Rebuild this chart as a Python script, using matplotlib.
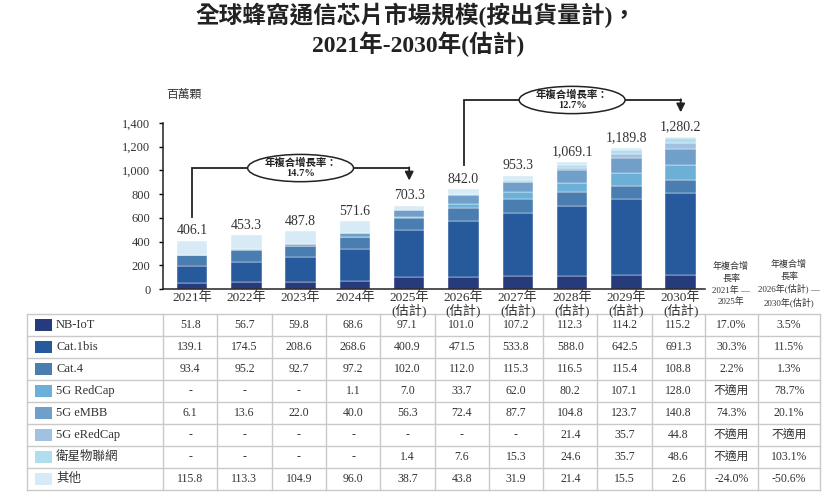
import matplotlib
matplotlib.use('Agg')
import matplotlib.pyplot as plt
from matplotlib.patches import Ellipse, Rectangle

plt.rcParams['font.family'] = ['Liberation Serif', 'Noto Sans CJK TC']

years = ['2021', '2022', '2023', '2024', '2025', '2026', '2027', '2028', '2029', '2030']
is_estimate = [False, False, False, False, True, True, True, True, True, True]

# None = "-" in the table
nb_iot = [51.8, 56.7, 59.8, 68.6, 97.1, 101.0, 107.2, 112.3, 114.2, 115.2]
cat1bis = [139.1, 174.5, 208.6, 268.6, 400.9, 471.5, 533.8, 588.0, 642.5, 691.3]
cat4 = [93.4, 95.2, 92.7, 97.2, 102.0, 112.0, 115.3, 116.5, 115.4, 108.8]
redcap = [None, None, None, 1.1, 7.0, 33.7, 62.0, 80.2, 107.1, 128.0]
embb = [6.1, 13.6, 22.0, 40.0, 56.3, 72.4, 87.7, 104.8, 123.7, 140.8]
eredcap = [None, None, None, None, None, None, None, 21.4, 35.7, 44.8]
satellite = [None, None, None, None, 1.4, 7.6, 15.3, 24.6, 35.7, 48.6]
other = [115.8, 113.3, 104.9, 96.0, 38.7, 43.8, 31.9, 21.4, 15.5, 2.6]
totals = [406.1, 453.3, 487.8, 571.6, 703.3, 842.0, 953.3, 1069.1, 1189.8, 1280.2]

series_names = ['NB-IoT', 'Cat.1bis', 'Cat.4', '5G RedCap', '5G eMBB', '5G eRedCap', '衛星物聯網', '其他']
series_vals = [nb_iot, cat1bis, cat4, redcap, embb, eredcap, satellite, other]
colors = ['#263b7c', '#27599d', '#4a7eb0', '#6cb0d8', '#709fc9', '#a2c1e0', '#b2ddef', '#d7ebf6']

cagr_21_25 = ['17.0%', '30.3%', '2.2%', '不適用', '74.3%', '不適用', '不適用', '-24.0%']
cagr_26_30 = ['3.5%', '11.5%', '1.3%', '78.7%', '20.1%', '不適用', '103.1%', '-50.6%']
cagr_first = '14.7%'
cagr_second = '12.7%'

W, H = 830, 494
fig = plt.figure(figsize=(W / 100, H / 100), dpi=100)

# overlay in pixel coords for titles and table
ov = fig.add_axes([0, 0, 1, 1])
ov.set_xlim(0, W)
ov.set_ylim(H, 0)
ov.axis('off')

ov.text(416, 15, '全球蜂窩通信芯片市場規模(按出貨量計)，', ha='center', va='center',
        fontsize=17, fontweight='bold', color='#222222')
ov.text(418, 44, '2021年-2030年(估計)', ha='center', va='center',
        fontsize=17, fontweight='bold', color='#222222')
ov.text(166, 95, '百萬顆', ha='left', va='center', fontsize=8.5, color='#333333')

# bar chart axes
x0_px, x1_px, ytop_px, ybot_px = 163, 705, 123, 289
ax = fig.add_axes([x0_px / W, 1 - ybot_px / H, (x1_px - x0_px) / W, (ybot_px - ytop_px) / H])
step = 54.3
ax.set_xlim(-(192 - x0_px) / step, (x1_px - 192) / step)
ax.set_ylim(0, 1400)
ax.patch.set_alpha(0)

pos = list(range(len(years)))
bottom = [0.0] * len(years)
for vals, c in zip(series_vals, colors):
    v = [0.0 if a is None else a for a in vals]
    ax.bar(pos, v, 0.56, bottom=bottom, color=c, edgecolor='white', linewidth=0.3)
    bottom = [b + a for b, a in zip(bottom, v)]

for p, t, b in zip(pos, totals, bottom):
    ax.text(p, b + 30, f'{t:,.1f}', ha='center', va='bottom', fontsize=10, color='#333333')

ax.spines['top'].set_visible(False)
ax.spines['right'].set_visible(False)
for s in ('left', 'bottom'):
    ax.spines[s].set_linewidth(1.1)
    ax.spines[s].set_color('#222222')
ax.set_yticks(range(0, 1401, 200))
ax.set_yticklabels([f'{v:,}' for v in range(0, 1401, 200)], fontsize=9, color='#333333')
ax.tick_params(axis='y', direction='out', length=3, width=1, pad=6)
ax.set_xticks(pos)
ax.set_xticklabels([y + '年' + ('\n(估計)' if e else '') for y, e in zip(years, is_estimate)],
                   fontsize=9.5, color='#333333', linespacing=0.95, va='top')
ax.tick_params(axis='x', length=0, pad=2)


def cagr_bracket(xs, xe, y_start, y_line, y_arrow, x_ell, label):
    ax.plot([xs, xs, xe], [y_start, y_line, y_line], color='#222222', lw=1.3,
            clip_on=False, solid_joinstyle='miter')
    ax.annotate('', xy=(xe, y_arrow), xytext=(xe, y_line + 6),
                arrowprops=dict(arrowstyle='-|>,head_length=0.5,head_width=0.25',
                                color='#222222', lw=1.3, shrinkA=0, shrinkB=0),
                annotation_clip=False)
    ell = Ellipse((x_ell, y_line), 1.95, 230, facecolor='white', edgecolor='#222222',
                  lw=1.1, clip_on=False, zorder=5)
    ax.add_patch(ell)
    ax.text(x_ell, y_line + 45, '年複合增長率：', ha='center', va='center', fontsize=7.5,
            fontweight='bold', zorder=6, clip_on=False, color='#222222')
    ax.text(x_ell, y_line - 50, label, ha='center', va='center', fontsize=7.5,
            fontweight='bold', zorder=6, clip_on=False, color='#222222')


cagr_bracket(0, 4, 607, 1020, 915, 2.0, cagr_first)
cagr_bracket(5, 9, 1045, 1594, 1490, 7.0, cagr_second)

# CAGR column headers
ov.text(731, 284, '年複合增\n長率\n2021年 —\n2025年', ha='center', va='center',
        fontsize=6.5, linespacing=1.45, color='#333333')
ov.text(789, 284, '年複合增\n長率\n2026年(估計) —\n2030年(估計)', ha='center', va='center',
        fontsize=6.5, linespacing=1.45, color='#333333')

# table
row_top, row_h = 314, 22
col_edges = [27, 163] + [163 + step * (k + 1) for k in range(len(years))] + [758, 820]
col_edges[11] = 705
n_rows = len(series_names)
grid = '#c9c9c9'
for r in range(n_rows + 1):
    y = row_top + r * row_h
    ov.plot([col_edges[0], col_edges[-1]], [y, y], color=grid, lw=1)
for xe in col_edges:
    ov.plot([xe, xe], [row_top, row_top + n_rows * row_h], color=grid, lw=1)

for r, (name, vals, c) in enumerate(zip(series_names, series_vals, colors)):
    yc = row_top + r * row_h + row_h / 2
    ov.add_patch(Rectangle((35, yc - 6), 17, 12, facecolor=c, edgecolor='none'))
    ov.text(56, yc, name, ha='left', va='center', fontsize=9, color='#333333')
    for k, v in enumerate(vals):
        xc = (col_edges[k + 1] + col_edges[k + 2]) / 2
        ov.text(xc, yc, '-' if v is None else f'{v:.1f}', ha='center', va='center',
                fontsize=8.5, color='#333333')
    ov.text((col_edges[11] + col_edges[12]) / 2, yc, cagr_21_25[r], ha='center',
            va='center', fontsize=8.5, color='#333333')
    ov.text((col_edges[12] + col_edges[13]) / 2, yc, cagr_26_30[r], ha='center',
            va='center', fontsize=8.5, color='#333333')

fig.savefig('out.png', dpi=100)
